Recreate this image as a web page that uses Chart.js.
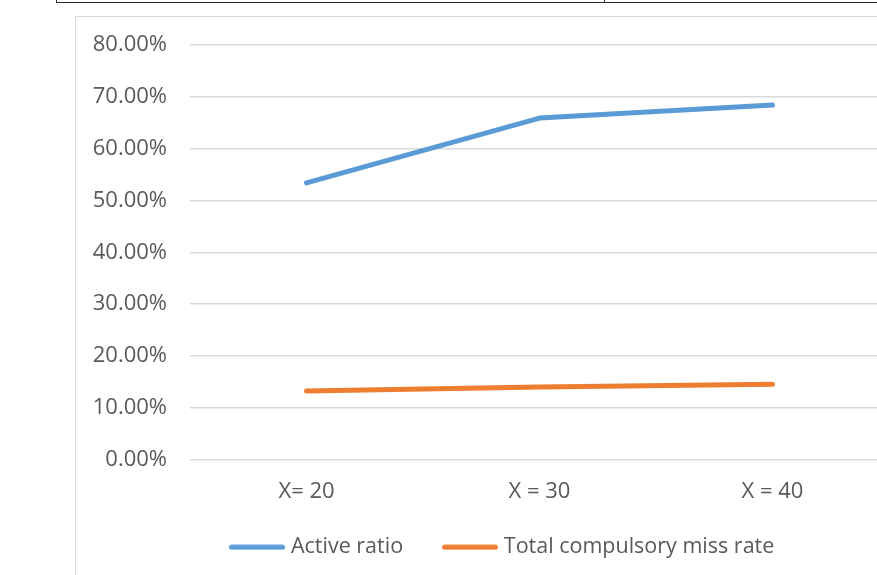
<!DOCTYPE html>
<html>
<head>
<meta charset="utf-8">
<script src="https://cdn.jsdelivr.net/npm/chart.js@4/dist/chart.umd.min.js"></script>
<style>
  html, body { margin: 0; padding: 0; width: 877px; height: 575px; overflow: hidden; background: #fff; }
  /* table row edge above the chart */
  #rowEdge { position: absolute; left: 56px; top: 2px; width: 840px; height: 0; border-top: 1.5px solid #262626; }
  #rowLeft { position: absolute; left: 56px; top: 0; width: 0; height: 3px; border-left: 1.5px solid #262626; }
  #rowMid  { position: absolute; left: 604px; top: 0; width: 0; height: 3px; border-left: 1.5px solid #262626; }
  /* chart object frame */
  #frame { position: absolute; left: 75px; top: 16px; width: 900px; height: 700px;
           border-left: 1.5px solid #d9d9d9; border-top: 1.5px solid #d9d9d9; }
  #wrap { position: absolute; left: 76px; top: 17px; width: 888px; height: 566px; }
</style>
</head>
<body>
<div id="rowEdge"></div><div id="rowLeft"></div><div id="rowMid"></div>
<div id="frame"></div>
<div id="wrap"><canvas id="chart"></canvas></div>
<script>
  // Categories and series (percent values)
  const categories = ['X= 20', 'X = 30', 'X = 40'];
  const activeRatio = [53.4, 65.9, 68.4];
  const compulsoryMissRate = [13.2, 14.0, 14.5];
  const yMin = 0, yMax = 80, yStep = 10;

  const FONT = { family: '"Open Sans", sans-serif', size: 22 };
  const LEGEND_FONT = { family: '"Open Sans", sans-serif', size: 21.5 };
  const TEXT = '#595959';
  const GRID = '#d9d9d9';
  const BLUE = '#5b9bd5';
  const ORANGE = '#ed7d31';

  // Short thick line with round ends, used as the legend key of a series
  function legendKey(color) {
    const c = document.createElement('canvas');
    c.width = 56; c.height = 6;
    const g = c.getContext('2d');
    g.strokeStyle = color; g.lineWidth = 5; g.lineCap = 'round';
    g.beginPath(); g.moveTo(2.5, 3); g.lineTo(53.5, 3); g.stroke();
    return c;
  }

  // Centre the legend row under the whole chart object and tuck it closer to the axis labels
  const legendShift = {
    id: 'legendShift',
    afterLayout(chart) {
      const lg = chart.legend;
      if (!lg) return;
      lg.left += 43.5;
      lg.top -= 15;
      lg.bottom -= 15;
    }
  };

  new Chart(document.getElementById('chart'), {
    type: 'line',
    data: {
      labels: categories,
      datasets: [
        { label: 'Active ratio', data: activeRatio, borderColor: BLUE, backgroundColor: BLUE,
          borderWidth: 5, borderCapStyle: 'round', borderJoinStyle: 'round', pointRadius: 0, tension: 0,
          pointStyle: legendKey(BLUE) },
        { label: 'Total compulsory miss rate', data: compulsoryMissRate, borderColor: ORANGE, backgroundColor: ORANGE,
          borderWidth: 5, borderCapStyle: 'round', borderJoinStyle: 'round', pointRadius: 0, tension: 0,
          pointStyle: legendKey(ORANGE) }
      ]
    },
    plugins: [legendShift],
    options: {
      responsive: true,
      maintainAspectRatio: false,
      animation: false,
      layout: { padding: { top: 28, left: 0, right: 75, bottom: 0 } },
      plugins: {
        tooltip: { enabled: false },
        legend: {
          position: 'bottom',
          labels: {
            usePointStyle: true, pointStyleWidth: 46,
            boxHeight: 6, padding: 44, color: TEXT, font: LEGEND_FONT
          }
        }
      },
      scales: {
        x: {
          offset: true,
          grid: { display: false, drawTicks: false, offset: true },
          border: { display: false },
          ticks: { color: TEXT, font: FONT, padding: 19, maxRotation: 0 },
          afterFit: s => { s.height = 48; }
        },
        y: {
          min: yMin, max: yMax,
          grid: { color: GRID, lineWidth: 1.5, drawTicks: true, tickLength: 23, tickColor: 'rgba(0,0,0,0)' },
          border: { display: false },
          ticks: { stepSize: yStep, color: TEXT, font: FONT, padding: 0,
                   callback: v => v.toFixed(2) + '%' },
          afterFit: s => { s.width = 114; }
        }
      }
    }
  });
</script>
</body>
</html>
